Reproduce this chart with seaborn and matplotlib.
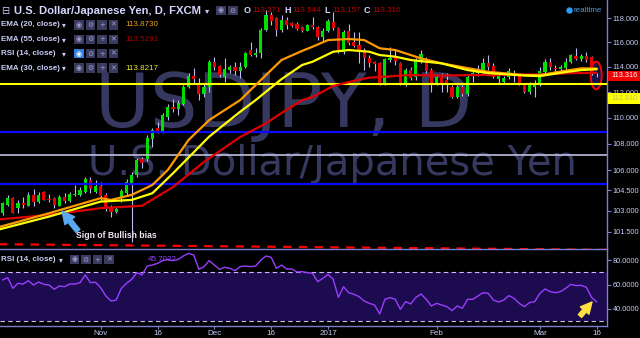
import numpy as np
import pandas as pd
import matplotlib
matplotlib.use("Agg")
import matplotlib.pyplot as plt
import seaborn as sns
from matplotlib.patches import Rectangle, Ellipse
from matplotlib.ticker import FixedLocator, NullLocator

# ---------------- data ----------------
first_bar = -19
opens = [102.88, 103.44, 103.93, 103.20, 103.58, 103.37, 104.17, 103.68, 104.41, 103.90,
         103.93, 103.37, 103.99, 103.75, 104.17, 104.17, 104.37, 105.27, 104.37,
         104.83, 104.17, 103.29, 102.95, 104.04, 104.34, 105.07, 105.64, 106.82, 106.82,
         108.33, 109.22, 108.99, 110.02, 110.85, 110.64, 111.06, 112.38, 113.27, 112.64,
         111.85, 112.38, 114.42, 114.08, 113.21, 113.75, 113.97, 113.70, 113.97, 115.37,
         114.96, 115.10, 117.01, 118.25, 117.97, 117.01, 117.83, 117.56, 117.50, 117.23,
         116.95, 117.42, 117.23, 116.41, 116.95, 117.70, 117.15, 115.23, 116.95, 116.02,
         115.78, 115.37, 114.72, 114.40, 114.29, 112.69, 114.56, 114.82, 114.29, 112.69,
         113.75, 113.21, 114.42, 114.62, 113.75, 112.69, 113.19, 112.95, 112.43, 111.64,
         112.38, 111.85, 113.43, 113.49, 113.70, 114.29, 114.08, 113.03, 112.81, 113.21,
         113.51, 113.27, 112.56, 111.98, 112.40, 112.64, 113.62, 114.42, 113.91, 113.81,
         113.91, 114.42, 114.88, 114.62, 114.88, 114.78, 113.371]
highs = [103.68, 104.17, 104.02, 103.80, 104.04, 104.41, 104.60, 104.41, 104.46, 104.24,
         104.02, 104.17, 104.29, 104.37, 104.90, 104.78, 105.51, 105.51, 105.27,
         105.12, 104.31, 103.44, 103.32, 104.58, 105.32, 105.89, 106.90, 107.02, 108.66,
         109.17, 109.68, 110.33, 111.06, 111.42, 111.37, 112.56, 113.49, 113.89, 113.08,
         112.69, 114.56, 114.78, 114.16, 114.70, 114.16, 114.42, 114.42, 115.23, 116.04,
         115.51, 117.15, 118.67, 118.50, 118.05, 118.25, 118.12, 117.67, 117.67, 117.34,
         117.50, 118.08, 117.34, 117.15, 117.89, 118.52, 117.23, 117.01, 117.51, 116.85,
         116.85, 115.53, 114.96, 114.50, 114.40, 114.72, 115.64, 115.37, 114.40, 113.91,
         114.02, 114.72, 115.37, 114.80, 113.89, 113.35, 113.51, 113.49, 112.56, 112.56,
         112.56, 113.35, 113.81, 114.16, 114.72, 114.96, 114.32, 113.51, 113.27, 113.91,
         113.75, 113.43, 112.72, 112.79, 112.95, 113.99, 114.64, 114.72, 114.16, 114.16,
         114.72, 115.04, 115.51, 115.04, 115.23, 114.88, 113.544]
lows = [102.71, 103.32, 102.83, 102.86, 103.20, 103.32, 103.32, 103.56, 103.78, 103.68,
        103.20, 103.32, 103.56, 103.68, 104.12, 104.12, 104.29, 104.29, 104.29,
        103.80, 103.02, 102.59, 102.83, 103.68, 104.17, 100.75, 105.51, 106.15, 106.72,
        107.77, 108.79, 108.83, 109.81, 110.46, 110.20, 110.98, 112.30, 112.69, 111.37,
        111.64, 112.03, 113.75, 113.21, 112.81, 113.49, 113.35, 113.08, 113.89, 114.85,
        114.78, 114.70, 116.95, 117.42, 116.51, 116.87, 117.09, 117.26, 117.01, 116.85,
        116.90, 117.06, 116.18, 116.02, 116.85, 117.01, 115.12, 115.04, 115.78, 115.62,
        114.32, 113.75, 114.00, 113.65, 112.56, 112.56, 114.42, 114.16, 112.56, 112.48,
        112.95, 112.95, 114.32, 113.54, 112.03, 112.56, 112.01, 112.03, 111.53, 111.53,
        111.69, 111.69, 112.81, 113.27, 113.35, 113.75, 113.08, 112.71, 112.71, 113.00,
        112.81, 112.56, 111.93, 111.85, 111.64, 112.48, 113.51, 113.75, 113.49, 113.65,
        113.75, 114.35, 114.56, 114.48, 114.42, 113.35, 113.157]
closes = [103.56, 103.93, 102.88, 103.61, 103.44, 104.17, 103.68, 104.17, 103.80, 103.80,
          103.44, 103.99, 103.75, 104.22, 104.21, 104.53, 105.32, 104.60, 104.83,
          104.10, 103.20, 102.95, 103.12, 104.48, 105.14, 105.64, 106.77, 106.56, 108.41,
          109.04, 108.99, 110.20, 110.85, 110.64, 111.11, 112.43, 113.27, 113.05, 111.85,
          112.38, 114.42, 114.02, 113.35, 113.81, 113.97, 113.70, 114.02, 115.15, 114.96,
          115.15, 117.01, 118.25, 117.75, 117.01, 117.83, 117.42, 117.34, 117.11, 116.95,
          117.42, 117.23, 116.41, 116.95, 117.78, 117.15, 115.23, 116.87, 115.92, 115.70,
          115.37, 114.72, 114.32, 114.24, 112.69, 114.62, 114.74, 114.50, 112.69, 113.75,
          113.08, 114.45, 115.04, 113.70, 112.69, 113.21, 112.71, 112.56, 111.64, 112.43,
          111.85, 113.21, 113.51, 113.75, 114.29, 113.97, 113.21, 113.27, 113.08, 113.70,
          113.35, 112.64, 112.03, 112.69, 112.64, 113.70, 114.42, 113.97, 113.83, 114.02,
          114.42, 114.96, 114.62, 114.88, 114.56, 113.49, 113.316]

ema20_bar = [-20, -10, 0, 2, 6, 10, 13, 17, 21, 27, 30, 35, 39, 41, 44, 48, 51, 54, 57, 62, 66, 71, 75, 82, 85, 90, 93, 96]
ema20 = [101.80, 102.83, 103.93, 103.80, 104.17, 104.90, 106.02, 108.28, 109.81, 111.37, 112.56, 114.56, 115.30,
         115.64, 116.18, 116.27, 116.18, 115.51, 115.37, 114.69, 114.29, 113.91, 113.61, 113.35, 113.35, 113.70,
         113.89, 113.87]
ema30_bar = [-20, -10, 0, 6, 10, 14, 21, 27, 30, 35, 39, 41, 45, 48, 52, 54, 57, 60, 66, 71, 75, 82, 85, 90, 93, 96]
ema30 = [101.63, 102.59, 103.68, 103.80, 104.29, 105.77, 108.54, 110.46, 111.37, 113.03, 114.16, 114.42, 115.23,
         115.37, 115.23, 114.96, 114.83, 114.56, 114.29, 113.75, 113.51, 113.31, 113.27, 113.59, 113.75, 113.82]
ema55_bar = [-20, -10, 0, 8, 14, 20, 27, 32, 35, 39, 41, 45, 48, 52, 54, 58, 60, 66, 72, 79, 85, 91, 96]
ema55 = [102.37, 102.71, 103.20, 103.37, 104.75, 106.62, 108.51, 109.56, 110.36, 111.37, 111.61, 112.48, 112.79,
         113.15, 113.19, 113.31, 113.35, 113.31, 113.35, 113.38, 113.40, 113.50, 113.53]

rsi = [63.7, 65.6, 56.9, 61.0, 60.4, 63.1, 59.6, 62.0, 60.1, 59.6, 56.1, 58.8, 58.2, 60.4, 60.4, 61.5, 67.8, 61.5, 61.8,
       57.4, 50.6, 46.5, 47.3, 56.9, 61.0, 64.2, 69.7, 67.8, 75.1, 75.9, 77.3, 79.5, 80.5, 79.5, 80.5, 83.3, 85.4,
       84.1, 72.4, 74.6, 79.5, 75.9, 72.4, 74.0, 73.2, 71.3, 74.6, 75.1, 74.6, 75.1, 80.0, 83.3, 82.2, 73.2, 75.9,
       72.7, 72.7, 70.2, 70.5, 69.7, 69.1, 62.3,
       65.0, 68.3, 64.2, 49.5, 58.2, 53.3, 52.0, 50.1, 46.5, 44.6, 43.3, 35.9, 47.9, 49.3, 47.9, 39.7, 46.0, 44.1,
       49.5, 52.2, 47.9, 42.5, 44.6, 43.3, 41.9, 38.6, 42.5, 40.6, 47.9, 47.9, 50.6, 53.3, 52.8, 47.3, 45.7, 47.3,
       50.9, 48.7, 44.6, 41.9, 45.2, 46.0, 52.8, 56.3, 54.2, 53.3, 54.2, 56.9, 60.1, 59.1, 59.3, 57.7, 49.5, 45.7]

support_yellow = 112.65
blue_levels = [108.89, 104.95]
grey_level = 107.14
trend_bar = [-20, 98]
trend_price = [100.61, 100.21]

price_ticks = [101.5, 103, 104.5, 106, 108, 110, 112, 114, 116, 118]
rsi_ticks = [40, 60, 80]
date_tick_bars = [0, 11, 22, 33, 44, 65, 85, 96]
date_tick_labels = ["Nov", "16", "Dec", "16", "2017", "Feb", "Mar", "16"]

legend_names = ["EMA (20, close)", "EMA (55, close)", "RSI (14, close)", "EMA (30, close)"]
legend_values = ["113.8730", "113.5291", "", "113.8217"]
ohlc_letters = ["O", "H", "L", "C"]
ohlc_values = ["113.371", "113.544", "113.157", "113.316"]
last_price_label = "113.316"
yellow_label = "112.810"
rsi_value_label = "45.7022"

# ---------------- style ----------------
sns.set_theme(style="dark", rc={"axes.facecolor": "black", "figure.facecolor": "black",
                                "axes.edgecolor": "#7c7fcf", "axes.grid": False})
plt.rcParams["font.family"] = ["Liberation Sans", "DejaVu Sans"]

TXT = "#c8ccf4"
AX_C = "#7c7fcf"
GREEN = "#00e000"
RED = "#e80000"
WICK = "#b8bcf0"
TICK_FS = 5.3

W, H = 640, 338
fig = plt.figure(figsize=(6.4, 3.38), dpi=100, facecolor="black")
ax = fig.add_axes([0, 1 - 249 / H, 607 / W, 249 / H])
ax_r = fig.add_axes([0, 1 - 326 / H, 607 / W, 77 / H], sharex=ax)
ov = fig.add_axes([0, 0, 1, 1], zorder=10)
ov.set_xlim(0, W)
ov.set_ylim(H, 0)
ov.axis("off")
ov.patch.set_alpha(0)

bars = np.arange(first_bar, first_bar + len(closes))
df = pd.DataFrame({"bar": bars, "open": opens, "high": highs, "low": lows, "close": closes})

ax.set_yscale("log")
ax.set_xlim(-19.49, 97.99)
ax.set_ylim(100.27, 119.51)

# watermark
ax.text(95, 127, "USDJPY, D", transform=ov.transData, fontsize=54, color="#36385f",
        family="DejaVu Sans", ha="left", va="baseline", zorder=0.5)
ax.text(88, 175, "U.S. Dollar/Japanese Yen", transform=ov.transData, fontsize=28.8, color="#36385f",
        family="DejaVu Sans", ha="left", va="baseline", zorder=0.5)

# red ellipse marker
ax.add_patch(Ellipse((596.2, 75.5), 11, 27.6, transform=ov.transData, facecolor="#12124a",
                     edgecolor="#ff0000", lw=1.4, zorder=2))

# candles
up = df["close"] >= df["open"]
body_lo = np.minimum(df["open"], df["close"])
body_h = np.maximum((df["close"] - df["open"]).abs(), 0.05)
ax.vlines(df["bar"], df["low"], df["high"], color=WICK, lw=0.8, zorder=3)
ax.bar(df["bar"], body_h, bottom=body_lo, width=0.62, color=np.where(up, GREEN, RED), lw=0, zorder=4)

# levels
ax.axhline(support_yellow, color="#ffff00", lw=1.5, zorder=5)
for lv in blue_levels:
    ax.axhline(lv, color="#0a0aff", lw=1.6, zorder=5)
ax.axhline(grey_level, color="#c0c0dc", lw=1.2, zorder=5)
ax.plot(trend_bar, trend_price, color="#ff0000", lw=1.6, ls=(0, (3.8, 3.3)), zorder=5)

# EMAs
sns.lineplot(x=ema55_bar, y=ema55, ax=ax, color="#dd0000", lw=1.6, zorder=6)
sns.lineplot(x=ema20_bar, y=ema20, ax=ax, color="#ff9900", lw=1.6, zorder=6)
sns.lineplot(x=ema30_bar, y=ema30, ax=ax, color="#ffff00", lw=1.6, zorder=7)

ax.set_xlabel("")
ax.set_ylabel("")
ax.yaxis.tick_right()
ax.yaxis.set_major_locator(FixedLocator(price_ticks))
ax.yaxis.set_minor_locator(NullLocator())
ax.set_yticklabels([f"{t:.3f}" for t in price_ticks])
ax.tick_params(axis="y", which="major", right=True, left=False, length=3, width=0.8, color=AX_C,
               labelcolor=TXT, labelsize=TICK_FS, pad=1.0)
ax.tick_params(axis="x", which="both", bottom=False, labelbottom=False)
for s in ["top", "left", "bottom"]:
    ax.spines[s].set_visible(False)
ax.spines["right"].set_color(AX_C)
ax.spines["right"].set_linewidth(1)

# RSI panel
ax_r.set_ylim(26.1, 89.0)
ax_r.axhspan(30, 70, color="#1d0b4f", lw=0, zorder=0)
for lv in (30, 70):
    ax_r.axhline(lv, color="#c8c0f0", lw=0.8, ls=(0, (4, 3)), zorder=1)
sns.lineplot(x=bars, y=rsi, ax=ax_r, color="#9b3dff", lw=1.0, zorder=3)
ax_r.set_xlabel("")
ax_r.set_ylabel("")
ax_r.yaxis.tick_right()
ax_r.yaxis.set_major_locator(FixedLocator(rsi_ticks))
ax_r.yaxis.set_minor_locator(NullLocator())
ax_r.set_yticklabels([f"{t:.4f}" for t in rsi_ticks])
ax_r.tick_params(axis="y", right=True, left=False, length=3, width=0.8, color=AX_C,
                 labelcolor=TXT, labelsize=TICK_FS, pad=1.0)
ax_r.xaxis.set_major_locator(FixedLocator(date_tick_bars))
ax_r.xaxis.set_minor_locator(NullLocator())
ax_r.set_xticklabels(date_tick_labels)
ax_r.tick_params(axis="x", bottom=True, length=2, width=0.8, color=AX_C, labelcolor=TXT,
                 labelsize=5.8, pad=1.2)
ax_r.spines["left"].set_visible(False)
for s in ["top", "right", "bottom"]:
    ax_r.spines[s].set_color(AX_C)
    ax_r.spines[s].set_linewidth(1)
ax_r.set_xlim(-19.49, 97.99)


# ---------------- overlay: legend widgets ----------------
def box(x, y, glyph, face="#3a3a5e", gc="#a0a0c8"):
    ov.add_patch(Rectangle((x, y - 4.7), 9.8, 9.4, facecolor=face, edgecolor="none"))
    ov.text(x + 4.9, y, glyph, fontsize=5, color=gc, ha="center", va="center", family="DejaVu Sans")


ov.text(1, 10.5, "\u229f", fontsize=7, color=TXT, ha="left", va="center", family="DejaVu Sans")
ov.text(14, 10.5, "U.S. Dollar/Japanese Yen, D, FXCM", fontsize=8.1, fontweight="bold",
        color="#d6d6ff", ha="left", va="center")
ov.text(205, 10.5, "\u25be", fontsize=6, color=TXT, ha="left", va="center", family="DejaVu Sans")
box(216, 10.5, "\u25c9")
box(228, 10.5, "\u2699")
for i, (lt, vt) in enumerate(zip(ohlc_letters, ohlc_values)):
    x0 = 244 + 40 * i
    ov.text(x0, 10.5, lt, fontsize=6.5, fontweight="bold", color="#d6d6ff", ha="left", va="center")
    ov.text(x0 + 8.5, 10.5, vt, fontsize=5.8, color="#c00000", ha="left", va="center")

ov.plot([568.5], [10], marker="o", ms=3.6, color="#2a9df4", lw=0)
ov.text(573, 10, "realtime", fontsize=5.8, color="#4f9fe0", ha="left", va="center")

row_y = [24.8, 39.2, 53.6, 68.0]
val_cols = ["#e8a020", "#a80000", None, "#e6e62a"]
for name, val, yy, vc in zip(legend_names, legend_values, row_y, val_cols):
    ov.text(1, yy, name, fontsize=5.8, fontweight="bold", color=TXT, ha="left", va="center")
    ov.text(62, yy, "\u25be", fontsize=5.5, color=TXT, ha="left", va="center", family="DejaVu Sans")
    if name.startswith("RSI"):
        box(74, yy, "\u25c9", face="#2f7fe0", gc="#ffffff")
    else:
        box(74, yy, "\u25c9")
    box(85.5, yy, "\u2699")
    box(97, yy, "+")
    box(108.5, yy, "\u2715")
    if val:
        ov.text(125, yy, val, fontsize=5.8, color=vc, ha="left", va="center")

# RSI panel legend
ov.text(1, 259.5, "RSI (14, close)", fontsize=5.8, fontweight="bold", color=TXT, ha="left", va="center")
ov.text(58.5, 259.5, "\u25be", fontsize=5.5, color=TXT, ha="left", va="center", family="DejaVu Sans")
box(69.5, 259.5, "\u25c9")
box(81, 259.5, "\u2699")
box(92.5, 259.5, "+")
box(104, 259.5, "\u2715")
ov.text(148, 259.5, rsi_value_label, fontsize=5.8, color="#9040ff", ha="left", va="center")

# price labels on the axis
ov.add_patch(Rectangle((607.5, 70.8), 32.5, 10, facecolor="#f00000", edgecolor="none"))
ov.text(611, 75.9, last_price_label, fontsize=TICK_FS, color="white", ha="left", va="center")
ov.add_patch(Rectangle((607.5, 93.3), 32.5, 10.5, facecolor="#ffff00", edgecolor="none"))
ov.text(611, 98.6, yellow_label, fontsize=TICK_FS, color="#c4bf66", ha="left", va="center")

# annotations
ov.text(76, 236, "Sign of Bullish bias", fontsize=6.2, fontweight="bold", color="#f2e6f2",
        ha="left", va="center")
ov.annotate("", xy=(62, 211), xytext=(78, 231),
            arrowprops=dict(arrowstyle="simple,head_length=0.9,head_width=0.9,tail_width=0.35",
                            color="#5aa8f0", mutation_scale=10, shrinkA=0, shrinkB=0))
ov.annotate("", xy=(592, 302), xytext=(580, 316),
            arrowprops=dict(arrowstyle="simple,head_length=0.9,head_width=0.9,tail_width=0.35",
                            color="#ffe040", mutation_scale=9, shrinkA=0, shrinkB=0))

fig.savefig("out.png", dpi=100, facecolor="black")
